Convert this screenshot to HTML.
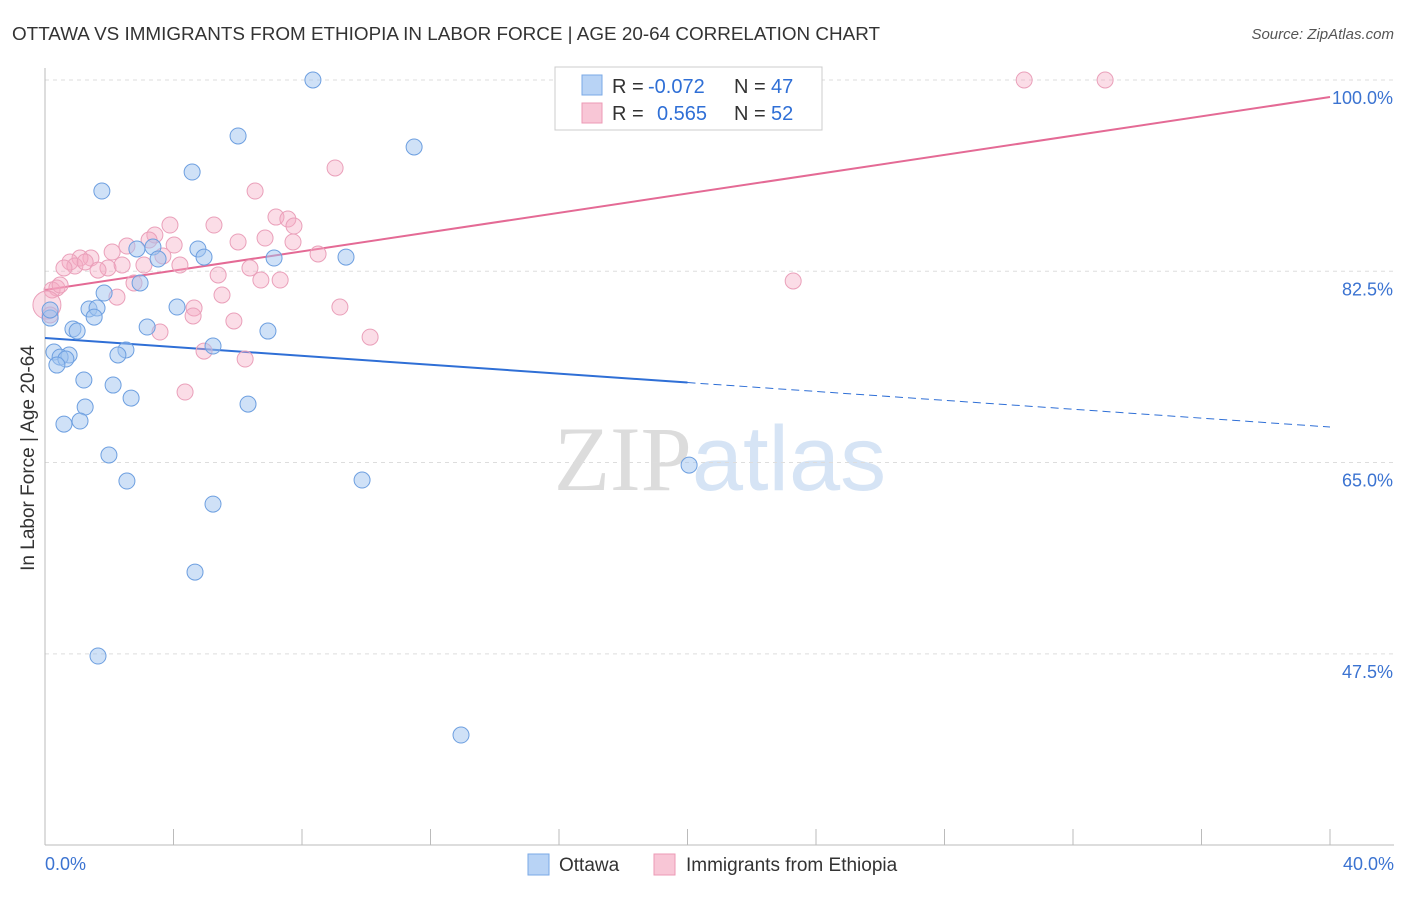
<!DOCTYPE html>
<html><head><meta charset="utf-8"><style>
body{margin:0;background:#fff;font-family:"Liberation Sans",sans-serif;}
svg text{font-family:"Liberation Sans",sans-serif;}
</style></head><body>
<svg id="chart" width="1406" height="892" xmlns="http://www.w3.org/2000/svg">
<text x="12" y="40" font-size="18" fill="#333" textLength="868" lengthAdjust="spacingAndGlyphs">OTTAWA VS IMMIGRANTS FROM ETHIOPIA IN LABOR FORCE | AGE 20-64 CORRELATION CHART</text>
<text x="1394" y="39" font-size="15" fill="#555" text-anchor="end" font-style="italic">Source: ZipAtlas.com</text>
<text x="720" y="490" font-size="92" text-anchor="middle"><tspan fill="#dcdcdc" font-family="Liberation Serif">ZIP</tspan><tspan fill="#d6e4f5">atlas</tspan></text>
<g id="grid"></g>
<g id="axes"></g>
<g id="trend"></g>
<g id="pts"></g>
<text transform="translate(34,458) rotate(-90)" font-size="19" fill="#333" text-anchor="middle">In Labor Force | Age 20-64</text>
<g>
<rect x="555" y="67" width="267" height="63" fill="#fff" stroke="#ccc"/>
<rect x="582" y="75" width="20" height="20" fill="#b8d3f5" stroke="#7aa8e6"/>
<rect x="582" y="103" width="20" height="20" fill="#f8c6d6" stroke="#ec9ab5"/>
<text x="612" y="93" font-size="20" fill="#333">R = <tspan x="648" fill="#2f6fd6">-0.072</tspan><tspan x="734">N = </tspan><tspan x="771" fill="#2f6fd6">47</tspan></text>
<text x="612" y="120" font-size="20" fill="#333">R = <tspan x="657" fill="#2f6fd6">0.565</tspan><tspan x="734">N = </tspan><tspan x="771" fill="#2f6fd6">52</tspan></text>
</g>
<g>
<rect x="528" y="854" width="21" height="21" fill="#b8d3f5" stroke="#7aa8e6"/>
<text x="559" y="871" font-size="19" fill="#333">Ottawa</text>
<rect x="654" y="854" width="21" height="21" fill="#f8c6d6" stroke="#ec9ab5"/>
<text x="686" y="871" font-size="19" fill="#333">Immigrants from Ethiopia</text>
</g>
</svg>
<script>
const yTicks=[100,82.5,65,47.5];
const yTickLabels=["100.0%","82.5%","65.0%","47.5%"];
const xTickLabels=["0.0%","40.0%"];
const ottawaX=[8.34,6.01,11.49,4.58,1.77,4.76,2.86,3.36,4.95,9.37,7.13,3.52,2.96,1.84,4.11,1.37,1.62,1.53,0.16,3.18,0.87,1.00,6.94,5.23,2.52,2.27,0.28,0.75,0.47,0.65,0.37,1.21,2.12,2.68,6.32,1.25,1.09,0.59,1.99,20.05,2.55,9.87,5.23,4.67,1.65,12.95,0.16];
const ottawaY=[100,94.88,93.87,91.58,89.84,84.54,84.54,84.72,83.80,83.80,83.71,83.62,81.43,80.51,79.23,79.05,79.14,78.31,78.22,77.40,77.22,77.03,77.03,75.66,75.30,74.84,75.11,74.84,74.65,74.47,73.92,72.55,72.09,70.90,70.35,70.08,68.80,68.52,65.69,64.77,63.31,63.40,61.20,54.98,47.30,40.07,78.96];
const ethX=[30.48,33.00,9.03,6.54,7.19,7.56,3.89,5.26,7.75,3.42,3.24,6.85,6.01,4.02,7.72,2.55,2.09,3.67,8.50,1.43,1.09,0.78,0.93,1.25,1.96,2.40,1.65,0.59,4.20,3.08,6.38,5.39,6.72,7.32,23.29,2.77,0.37,0.22,2.24,5.51,4.64,9.18,4.61,5.88,3.58,10.12,4.95,6.23,4.36,0.06,0.16,0.47];
const ethY=[100,100,91.95,89.84,87.46,87.28,86.73,86.73,86.64,85.82,85.36,85.54,85.18,84.90,85.18,84.81,84.26,83.90,84.08,83.71,83.71,83.35,82.98,83.35,82.80,83.07,82.61,82.80,83.07,83.07,82.80,82.16,81.70,81.70,81.61,81.43,80.97,80.79,80.14,80.33,79.14,79.23,78.41,77.95,76.94,76.48,75.20,74.47,71.45,79.41,78.50,81.24];
const ottawaTrend=[76.39,68.25];
const ethTrend=[80.79,98.44];
const NS="http://www.w3.org/2000/svg";
const X=v=>45+v/40*1285;
const Y=v=>80+(100-v)*10.93;
function mk(tag,attrs,parent){const e=document.createElementNS(NS,tag);for(const k in attrs)e.setAttribute(k,attrs[k]);document.getElementById(parent).appendChild(e);return e;}
yTicks.forEach((t,i)=>{
 const l=mk('line',{x1:45,x2:1394,y1:Y(t),y2:Y(t),stroke:'#ddd','stroke-dasharray':'4,4'},'grid');
 
 
 const tx=mk('text',{x:1393,y:Y(t)+24,'font-size':18,fill:'#3b73d1','text-anchor':'end'},'grid');
 tx.textContent=yTickLabels[i];
 
 
});
const ax=mk('line',{x1:45,x2:45,y1:68,y2:845,stroke:'#bbb'},'axes');


const bx=mk('line',{x1:45,x2:1394,y1:845,y2:845,stroke:'#bbb'},'axes');


for(let i=0;i<=10;i++){const t=mk('line',{x1:X(i*4),x2:X(i*4),y1:829,y2:845,stroke:'#bbb'},'axes');
 
 }
[[0,'start',45],[40,'end',1394]].forEach((d,i)=>{const t=mk('text',{x:d[2],y:870,'font-size':18,fill:'#3b73d1','text-anchor':d[1]},'axes');t.textContent=xTickLabels[i];
 
 });
const bl=t=>ottawaTrend[0]+(ottawaTrend[1]-ottawaTrend[0])*t/40;
let l1=mk('line',{x1:X(0),y1:Y(bl(0)),x2:X(20),y2:Y(bl(20)),stroke:'#2f6fd6','stroke-width':2},'trend');


let l2=mk('line',{x1:X(20),y1:Y(bl(20)),x2:X(40),y2:Y(bl(40)),stroke:'#2f6fd6','stroke-width':1,'stroke-dasharray':'8,5'},'trend');


let l3=mk('line',{x1:X(0),y1:Y(ethTrend[0]),x2:X(40),y2:Y(ethTrend[1]),stroke:'#e46a95','stroke-width':2},'trend');


ethX.forEach((x,i)=>{const c=mk('circle',{cx:X(x),cy:Y(ethY[i]),r:i==49?14:8,fill:'rgba(245,170,195,0.4)',stroke:'#eaa0ba','stroke-width':1},'pts');
 
 });
ottawaX.forEach((x,i)=>{const c=mk('circle',{cx:X(x),cy:Y(ottawaY[i]),r:8,fill:'rgba(160,195,240,0.5)',stroke:'#6d9fe0','stroke-width':1},'pts');
 
 });
</script>
</body></html>
